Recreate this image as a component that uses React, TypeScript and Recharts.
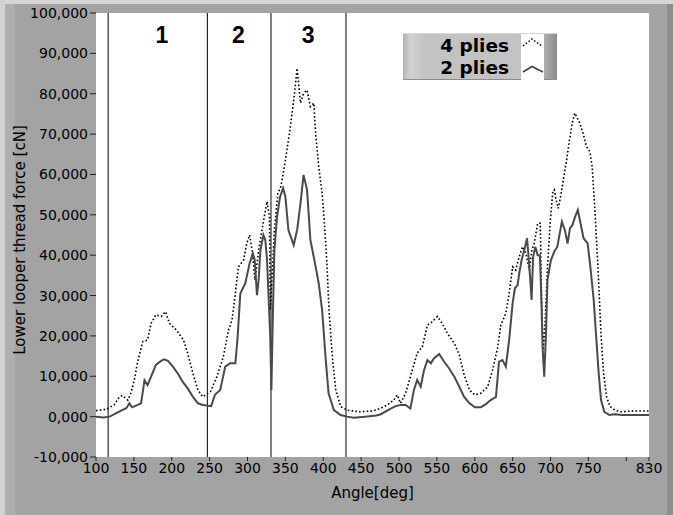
import {
  LineChart,
  Line,
  XAxis,
  YAxis,
  CartesianGrid,
  ReferenceLine,
  ReferenceDot,
} from "recharts";

// 4 plies (dotted)
const angles4 = [
  100, 113, 124, 131, 135, 142, 146, 150.6, 155, 161.7, 168, 172.7, 179, 186, 191.7, 197, 206, 215.5,
  221, 228, 234.5, 241, 251, 259.6, 268, 275, 279.5, 284, 288, 294.8, 299, 302.8, 306, 310, 314.7, 321,
  325.8, 329, 330, 332, 335.5, 340, 344, 348, 352, 356, 361, 365.5, 370, 374, 378.6, 383, 387.5, 390,
  394, 398.5, 401, 404.6, 407.6, 412, 416.5, 423, 431.5, 449, 465, 475, 484.5, 493, 497.6, 502, 508.7,
  515, 524, 530.8, 537.5, 544, 550.6, 557, 564, 573, 579.6, 586, 593, 600, 608, 617, 623.5, 630, 634.4,
  641, 645, 650, 654, 658.7, 663, 667.5, 672, 675.4, 678.5, 683, 686.5, 688.2, 690.4, 692.6, 696, 699.8,
  703, 705, 707.3, 710.3, 714, 717.5, 721.6, 725, 728.7, 732, 735.5, 738.6, 743, 747.6, 752, 755, 758.6,
  763, 766.6, 770, 774, 778.6, 785, 793, 810, 830,
];
const force4 = [
  1500, 1800, 2900, 4900, 5200, 4100, 5800, 9100, 13600, 18600, 19000, 23100, 25200, 24800, 26000, 23100,
  21500, 19000, 15700, 10700, 6600, 4900, 6200, 9900, 14800, 21500, 23900, 30500, 37100, 38800, 42900,
  45000, 41300, 33800, 41300, 48300, 53300, 49500, 26400, 33000, 46200, 55300, 57000, 61100, 66000, 71000,
  78400, 86300, 77700, 80100, 80900, 76800, 77700, 70000, 62000, 55300, 49500, 38800, 26400, 14800, 6600,
  2500, 1600, 1200, 1400, 2000, 2900, 4100, 5400, 3300, 5800, 9900, 15700, 17300, 22700, 23500, 24800,
  23100, 20600, 18200, 15300, 10300, 6600, 5400, 5800, 7400, 11500, 16900, 22700, 25600, 30000, 37100,
  36300, 39600, 42100, 40500, 36300, 41300, 42900, 47900, 47900, 28900, 16500, 22300, 37100, 48700, 55700,
  56200, 53700, 51600, 55300, 59400, 64000, 68500, 72700, 75200, 73900, 72700, 70200, 66900, 65600, 61900,
  51200, 35500, 20600, 10700, 4900, 2500, 1600, 1200, 1400, 1400,
];

// 2 plies (solid)
const angles2 = [
  100, 110, 118, 126, 133, 140, 144, 147.6, 155, 159.5, 164, 168, 172.7, 179, 186, 190, 195, 201, 208,
  214.6, 221, 228, 234.5, 241, 252, 257, 264, 270.6, 277, 284, 287, 290.5, 297, 302.8, 307, 309.5, 312.5,
  314.7, 317, 321, 323.5, 325.8, 328, 330, 331.5, 333.7, 335.5, 339, 343, 347, 350, 354, 361, 365.5, 370,
  374, 378.6, 383, 390, 394, 398.5, 403, 407, 414, 423, 431.5, 440, 455, 470, 476, 489, 495.5, 502, 508.7,
  515, 519.7, 524, 528.6, 533, 537.5, 542, 546, 553, 559.6, 566, 573, 579.6, 586, 593, 600, 608, 614.6,
  621, 628, 632, 636.6, 641, 645.4, 650, 653, 656.5, 658.7, 661.8, 665.4, 669, 671, 673, 675, 677, 680,
  683, 686, 688.2, 689.5, 691.7, 694, 696, 700.5, 705, 709, 715, 719, 722.5, 725.7, 729, 732.4, 736,
  739.6, 743.6, 749, 752.6, 757, 760, 763.6, 766.7, 771, 777.7, 784, 795, 810, 830,
];
const force2 = [
  0, -200, 0, 800, 1500, 2100, 3300, 2300, 2900, 3300, 9000, 7800, 9900, 12800, 13800, 14200, 13800, 12500,
  10700, 8600, 7000, 4900, 3300, 2900, 2600, 5400, 6600, 12400, 13200, 13200, 19800, 30500, 33000, 38000,
  40500, 38800, 30100, 33800, 41300, 45000, 43800, 38800, 28900, 19800, 6600, 27200, 41300, 49500, 54500,
  56600, 54500, 46200, 42500, 46200, 52900, 59900, 56200, 43800, 37100, 33000, 26400, 14800, 5800, 1600,
  400, 0, -300, 0, 300, 600, 2000, 2600, 2900, 2900, 2000, 6600, 9100, 7400, 11500, 14000, 13200, 14400,
  15500, 13600, 12000, 9900, 7400, 4900, 3300, 2300, 2300, 3100, 4100, 4900, 13600, 14000, 12400, 19000,
  28100, 31800, 32600, 35500, 38800, 41300, 44200, 39600, 34700, 28900, 39600, 42100, 40000, 40000, 27200,
  17300, 9900, 20600, 33800, 38800, 40900, 42100, 48300, 46200, 42900, 46700, 47500, 49500, 51200, 47900,
  44200, 42900, 37100, 28900, 20600, 10700, 4100, 1200, 400, 600, 400, 400, 400,
];

const xTicks = [100, 150, 200, 250, 300, 350, 400, 450, 500, 550, 600, 650, 700, 750, 800, 830];
const yTicks = [-10000, 0, 10000, 20000, 30000, 40000, 50000, 60000, 70000, 80000, 90000, 100000];
const zoneBounds = [116, 247, 331, 430];
const zoneLabels = [
  { name: "1", angle: 187 },
  { name: "2", angle: 288 },
  { name: "3", angle: 380 },
];
const seriesNames = ["4 plies", "2 plies"];

const data4 = angles4.map((a, i) => ({ angle: a, force: force4[i] }));
const data2 = angles2.map((a, i) => ({ angle: a, force: force2[i] }));

const FONT = "'DejaVu Sans', Verdana, sans-serif";
const tickFont = { fontFamily: FONT, fontSize: 14, fill: "#000" };
const titleFont = { fontFamily: FONT, fontSize: 15, fill: "#000" };

const fmtY = (v: number) => (v === 0 ? "0,000" : v.toLocaleString("en-US"));

function LegendBox() {
  return (
    <div
      style={{
        position: "absolute",
        left: 403,
        top: 33,
        width: 154,
        height: 47,
        boxSizing: "border-box",
        borderTop: "1px solid #d8d8d8",
        borderBottom: "1px solid #8c8c8c",
        background:
          "linear-gradient(to right, #b4b4b4 0%, #d2d2d2 5%, #c3c3c3 14%, #c3c3c3 86%, #a8a8a8 93%, #8a8a8a 100%)",
      }}
    >
      <div
        style={{
          position: "absolute",
          right: 48,
          top: 1,
          textAlign: "right",
          fontFamily: FONT,
          fontWeight: 700,
          fontSize: 18.5,
          lineHeight: "22px",
          color: "#000",
          whiteSpace: "nowrap",
        }}
      >
        {seriesNames.map((n) => (
          <div key={n}>{n}</div>
        ))}
      </div>
      <svg
        width={23}
        height={46}
        style={{ position: "absolute", left: 118, top: 0, background: "#fff" }}
      >
        <polyline points="2,12 11,5 21,12" fill="none" stroke="#000" strokeWidth={1.5} strokeDasharray="1.5 2" />
        <polyline points="2,38 11,32.5 22,38" fill="none" stroke="#444" strokeWidth={1.6} />
      </svg>
    </div>
  );
}

export default function App() {
  return (
    <div
      style={{
        position: "fixed",
        left: 0,
        top: 0,
        width: 673,
        height: 515,
        background: "#a3a3a3",
        overflow: "hidden",
      }}
    >
      <div style={{ position: "absolute", left: 0, top: 0, width: 673, height: 4, background: "#d6d6d6" }} />
      <div style={{ position: "absolute", left: 0, top: 0, width: 5, height: 515, background: "#d2d2d2" }} />
      <div style={{ position: "absolute", left: 5, top: 4, width: 10, height: 511, background: "#afafaf" }} />
      <div style={{ position: "absolute", left: 667, top: 4, width: 6, height: 511, background: "#8e8e8e" }} />
      <div style={{ position: "absolute", left: 0, top: 0 }}>
        <LineChart width={673} height={515} margin={{ top: 13, right: 24, bottom: 8, left: 0 }}>
          <CartesianGrid fill="#ffffff" stroke="none" horizontal={false} vertical={false} />
          <XAxis
            dataKey="angle"
            type="number"
            domain={[100, 830]}
            ticks={xTicks}
            interval={0}
            allowDataOverflow
            tickFormatter={(v: number) => (v === 800 ? "" : String(v))}
            tick={tickFont}
            tickLine={{ stroke: "#222" }}
            tickSize={4}
            tickMargin={2}
            axisLine={false}
            height={50}
            label={{
              value: "Angle[deg]",
              position: "insideBottom",
              offset: 9,
              style: { ...titleFont },
            }}
          />
          <YAxis
            type="number"
            domain={[-10000, 100000]}
            ticks={yTicks}
            interval={0}
            allowDataOverflow
            tickFormatter={fmtY}
            tick={tickFont}
            tickLine={{ stroke: "#222" }}
            tickSize={6}
            tickMargin={2}
            axisLine={false}
            width={96}
            label={{
              value: "Lower looper thread force [cN]",
              angle: -90,
              position: "insideLeft",
              offset: 20,
              dy: 5,
              style: { ...titleFont, textAnchor: "middle" },
            }}
          />
          {zoneBounds.map((x) => (
            <ReferenceLine key={x} x={x} stroke="#000" strokeWidth={1} />
          ))}
          {zoneLabels.map((z) => (
            <ReferenceDot
              key={z.name}
              x={z.angle}
              y={94600}
              r={0}
              fill="none"
              stroke="none"
              label={{
                value: z.name,
                position: "center",
                fill: "#000",
                fontSize: 23,
                fontWeight: 700,
                fontFamily: "'Liberation Sans', Arial, sans-serif",
              }}
            />
          ))}
          <Line
            data={data4}
            dataKey="force"
            name={seriesNames[0]}
            type="linear"
            stroke="#000"
            strokeWidth={1.6}
            strokeDasharray="1.6 2.2"
            dot={false}
            isAnimationActive={false}
          />
          <Line
            data={data2}
            dataKey="force"
            name={seriesNames[1]}
            type="linear"
            stroke="#4a4a4a"
            strokeWidth={2}
            dot={false}
            isAnimationActive={false}
          />
        </LineChart>
      </div>
      <LegendBox />
    </div>
  );
}
